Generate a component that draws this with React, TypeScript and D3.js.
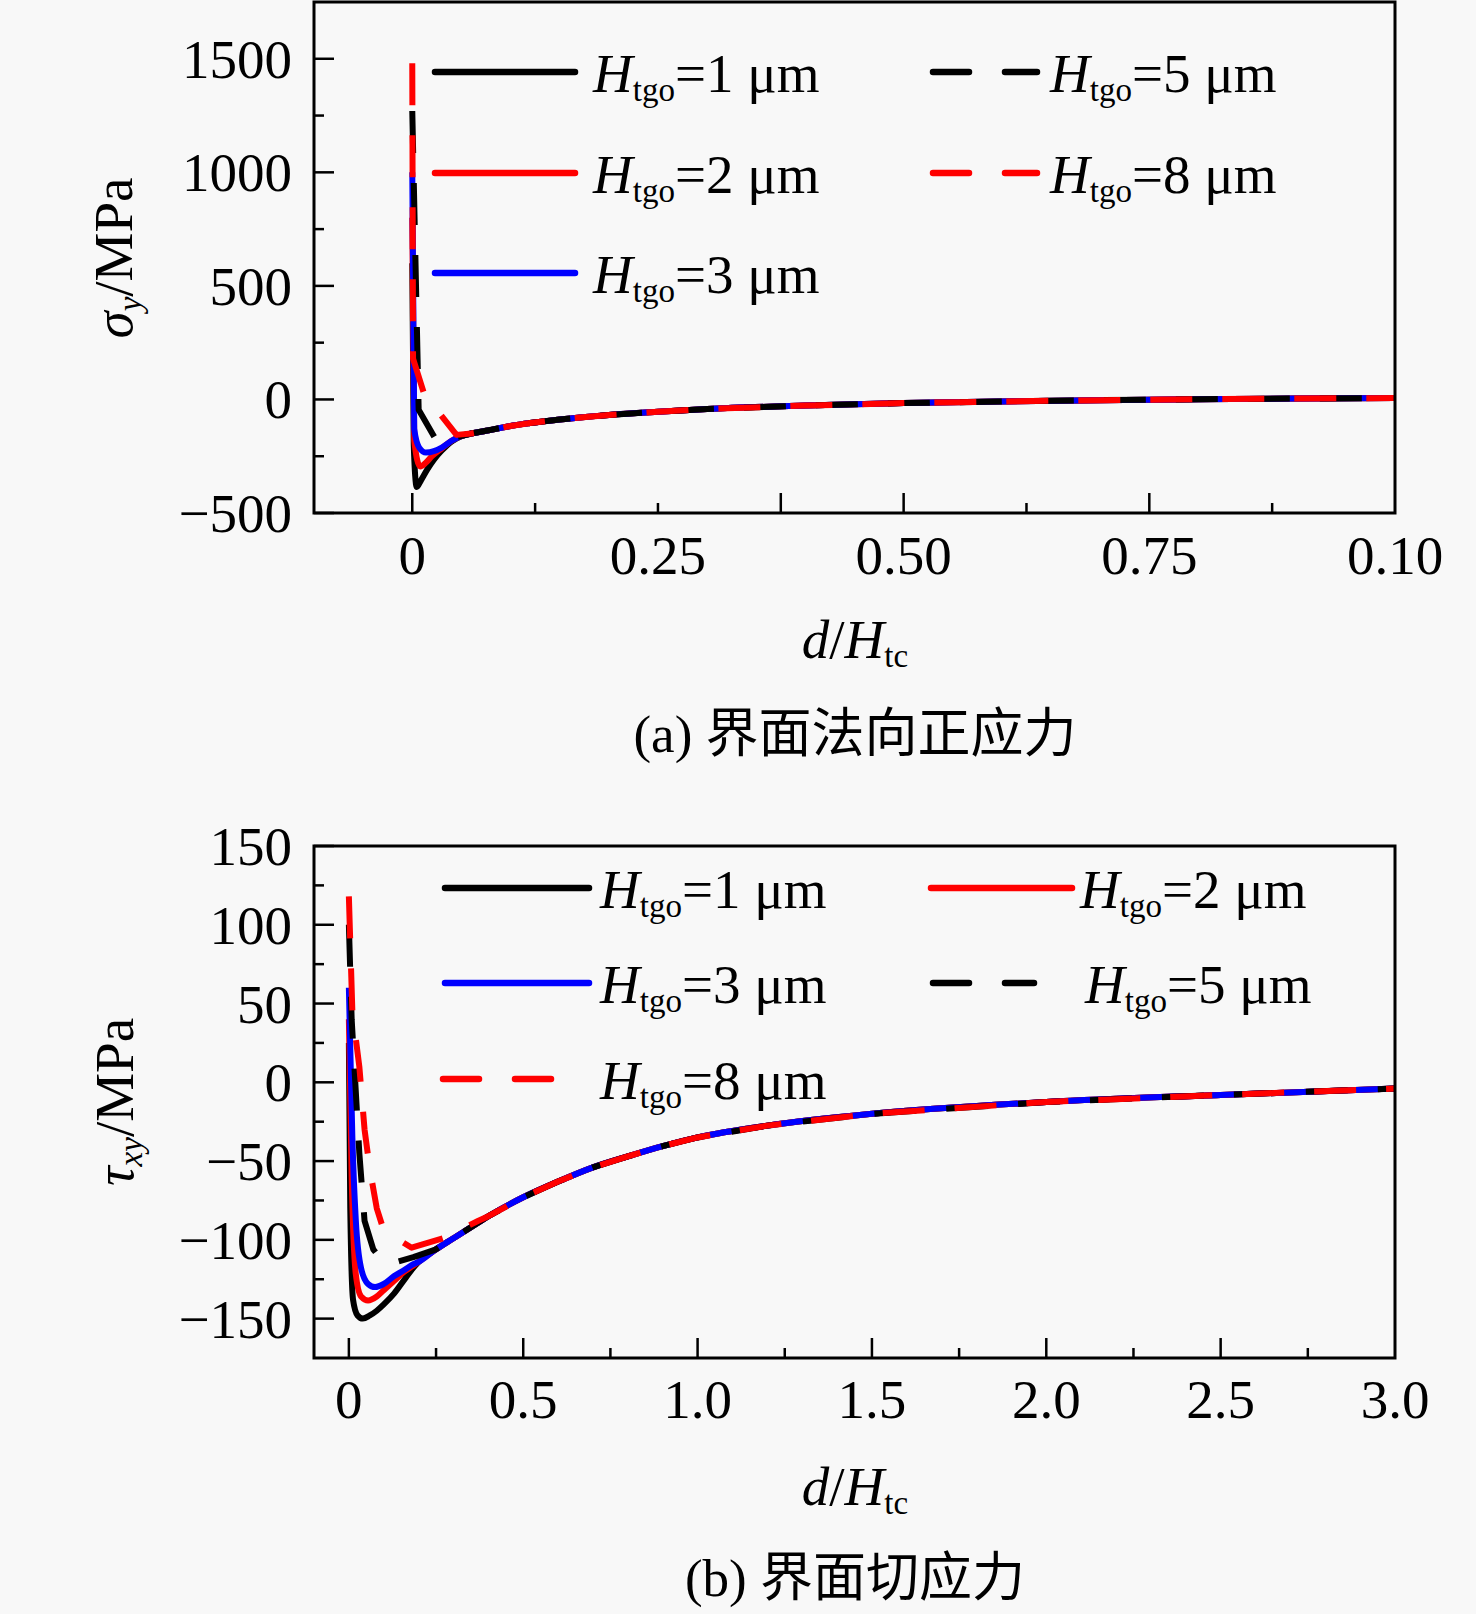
import React from 'react';
import * as d3 from 'd3';

// ---------- data ----------
const seriesLabels = ['1', '2', '3', '5', '8']; // H_tgo (μm)
const seriesColors = ['#000000', '#ff0000', '#0000ff', '#000000', '#ff0000'];
const seriesDashed = [false, false, false, true, true];

// (a) σy vs d/Htc
const sigmaTail: [number, number][] = [[0.075, -138], [0.1, -117], [0.12, -104], [0.15, -88], [0.2, -68], [0.25, -54], [0.3, -42], [0.4, -27], [0.5, -16], [0.6, -9], [0.7, -3], [0.8, 1], [0.9, 4], [1.0, 6]];
const sigma1: [number, number][] = [[0, 600], [0.0015, -200], [0.0045, -385], [0.009, -355], [0.015, -310], [0.022, -265], [0.03, -225], [0.04, -185], [0.05, -162], [0.06, -150]];
const sigma2: [number, number][] = [[0, 800], [0.002, -180], [0.008, -295], [0.014, -278], [0.02, -250], [0.03, -215], [0.04, -182], [0.05, -161], [0.06, -150]];
const sigma3: [number, number][] = [[0, 1000], [0.002, -130], [0.007, -212], [0.014, -234], [0.022, -228], [0.03, -212], [0.04, -182], [0.05, -161], [0.06, -150]];
const sigma5: [number, number][] = [[0, 1270], [0.0065, -45], [0.027, -200], [0.045, -166], [0.06, -150]];
const sigma8: [number, number][] = [[0, 1480], [0.0008, 180], [0.012, 25], [0.045, -156], [0.06, -150]];

// (b) τxy vs d/Htc
const tauTail: [number, number][] = [[0.2, -114], [0.25, -106], [0.3, -99], [0.35, -92], [0.4, -85], [0.5, -73], [0.6, -63], [0.7, -54], [0.8, -47], [0.9, -40.5], [1.0, -35], [1.2, -27.5], [1.5, -20], [2.0, -12.5], [2.5, -8], [3.0, -4]];
const tau1: [number, number][] = [[0, 25], [0.004, -80], [0.012, -138], [0.025, -148], [0.04, -150], [0.06, -148], [0.08, -145], [0.1, -141], [0.13, -134], [0.16, -125], [0.18, -119]];
const tau2: [number, number][] = [[0, 40], [0.008, -60], [0.02, -122], [0.035, -136], [0.055, -138.5], [0.08, -136], [0.1, -132], [0.13, -126], [0.16, -120], [0.18, -117]];
const tau3: [number, number][] = [[0, 60], [0.01, -35], [0.02, -88], [0.035, -118], [0.055, -128], [0.075, -130], [0.1, -128], [0.13, -123], [0.16, -119], [0.18, -116]];
const tau5: [number, number][] = [[0, 100], [0.008, 40], [0.03, -45], [0.045, -88], [0.07, -106], [0.105, -116], [0.185, -111], [0.25, -106]];
const tau8: [number, number][] = [[0, 118], [0.01, 45], [0.03, 10], [0.045, -30], [0.06, -55], [0.08, -80], [0.1, -94], [0.18, -105], [0.27, -99], [0.37, -88]];

const sigmaSeries = [
  [...sigma1, ...sigmaTail],
  [...sigma2, ...sigmaTail],
  [...sigma3, ...sigmaTail],
  [...sigma5, ...sigmaTail],
  [...sigma8, ...sigmaTail],
];
const tauSeries = [
  [...tau1, ...tauTail],
  [...tau2, ...tauTail],
  [...tau3, ...tauTail],
  [...tau5, ...tauTail.filter((p) => p[0] >= 0.3)],
  [...tau8, ...tauTail.filter((p) => p[0] >= 0.4)],
];

// ticks
const aXMajor = [0, 0.375, 0.5, 0.75];
const aXMinor = [0.125, 0.25, 0.625, 0.875];
const aXLabelVals = [0, 0.25, 0.5, 0.75, 1.0];
const aXLabels = ['0', '0.25', '0.50', '0.75', '0.10'];
const aYMajor = [-500, 0, 500, 1000, 1500];
const aYMinor = [-250, 250, 750, 1250];

const bXMajor = [0, 0.5, 1.0, 1.5, 2.0, 2.5];
const bXMinor = [0.25, 0.75, 1.25, 1.75, 2.25, 2.75];
const bXLabelVals = [0, 0.5, 1.0, 1.5, 2.0, 2.5, 3.0];
const bXLabels = ['0', '0.5', '1.0', '1.5', '2.0', '2.5', '3.0'];
const bYMajor = [-150, -100, -50, 0, 50, 100, 150];
const bYMinor = [-125, -75, -25, 25, 75, 125];

// ---------- style ----------
const FONT = "'Liberation Serif', 'Times New Roman', 'Noto Sans CJK SC', serif";
const CJK = "'Liberation Serif', 'Noto Sans CJK SC', sans-serif";
const BG = '#f8f8f8';
const LW = 6;
const DASH = '42 30';
const LEG_DASH = '36 36';
const FS = 55;
const SUB = 33;

const fmtY = (v: number) => (v < 0 ? '\u2212' + Math.abs(v) : String(v));

type PanelProps = {
  id: string;
  left: number; right: number; top: number; bottom: number;
  xDomain: [number, number]; yDomain: [number, number];
  series: [number, number][][];
  xMajor: number[]; xMinor: number[]; xLabelVals: number[]; xLabels: string[];
  yMajor: number[]; yMinor: number[];
  xLabelBaseline: number;
};

function Panel(p: PanelProps) {
  const x = d3.scaleLinear().domain(p.xDomain).range([p.left, p.right]);
  const y = d3.scaleLinear().domain(p.yDomain).range([p.bottom, p.top]);
  const lineSmooth = d3.line<[number, number]>().x((d) => x(d[0])).y((d) => y(d[1])).curve(d3.curveMonotoneX);
  const lineLin = d3.line<[number, number]>().x((d) => x(d[0])).y((d) => y(d[1]));
  const MAJ = 20, MIN = 10;
  return (
    <g>
      <defs>
        <clipPath id={p.id}>
          <rect x={p.left} y={p.top} width={p.right - p.left} height={p.bottom - p.top} />
        </clipPath>
      </defs>
      <g clipPath={`url(#${p.id})`}>
        {p.series.map((s, i) => (
          <path
            key={i}
            d={(seriesDashed[i] ? lineLin : lineSmooth)(s) || ''}
            fill="none"
            stroke={seriesColors[i]}
            strokeWidth={LW}
            strokeDasharray={seriesDashed[i] ? DASH : undefined}
            strokeLinejoin="round"
          />
        ))}
      </g>
      {p.xMajor.map((v) => (
        <line key={'xM' + v} x1={x(v)} x2={x(v)} y1={p.bottom} y2={p.bottom - MAJ} stroke="#000" strokeWidth={2.5} />
      ))}
      {p.xMinor.map((v) => (
        <line key={'xm' + v} x1={x(v)} x2={x(v)} y1={p.bottom} y2={p.bottom - MIN} stroke="#000" strokeWidth={2.5} />
      ))}
      {p.yMajor.map((v) => (
        <line key={'yM' + v} x1={p.left} x2={p.left + MAJ} y1={y(v)} y2={y(v)} stroke="#000" strokeWidth={2.5} />
      ))}
      {p.yMinor.map((v) => (
        <line key={'ym' + v} x1={p.left} x2={p.left + MIN} y1={y(v)} y2={y(v)} stroke="#000" strokeWidth={2.5} />
      ))}
      <rect x={p.left} y={p.top} width={p.right - p.left} height={p.bottom - p.top} fill="none" stroke="#000" strokeWidth={3} />
      {p.xLabelVals.map((v, i) => (
        <text key={'xl' + i} x={x(v)} y={p.xLabelBaseline} textAnchor="middle" fontSize={FS} fontFamily={FONT}>
          {p.xLabels[i]}
        </text>
      ))}
      {p.yMajor.map((v) => (
        <text key={'yl' + v} x={292} y={y(v) + 19} textAnchor="end" fontSize={FS} fontFamily={FONT}>
          {fmtY(v)}
        </text>
      ))}
    </g>
  );
}

function LegendItem({ x1, x2, y, i, tx }: { x1: number; x2: number; y: number; i: number; tx: number }) {
  return (
    <g>
      <line x1={x1 + 3} x2={x2 - 3} y1={y} y2={y} stroke={seriesColors[i]} strokeWidth={LW + 0.5}
        strokeLinecap="round"
        strokeDasharray={seriesDashed[i] ? LEG_DASH : undefined} />
      <text x={tx} y={y + 20} fontSize={FS} fontFamily={FONT}>
        <tspan fontStyle="italic">H</tspan>
        <tspan fontSize={SUB} dy={9}>tgo</tspan>
        <tspan dy={-9}>{'=' + seriesLabels[i] + ' \u03bcm'}</tspan>
      </text>
    </g>
  );
}

export default function App() {
  return (
    <svg width={1476} height={1614} style={{ position: 'absolute', left: 0, top: 0, background: BG }}>
      <rect x={0} y={0} width={1476} height={1614} fill={BG} />
      <Panel id="clipA" left={314} right={1395} top={2} bottom={513}
        xDomain={[-0.1, 1.0]} yDomain={[-500, 1750]} series={sigmaSeries}
        xMajor={aXMajor} xMinor={aXMinor} xLabelVals={aXLabelVals} xLabels={aXLabels}
        yMajor={aYMajor} yMinor={aYMinor} xLabelBaseline={574} />
      <Panel id="clipB" left={314} right={1395} top={846} bottom={1358}
        xDomain={[-0.1, 3.0]} yDomain={[-175, 150]} series={tauSeries}
        xMajor={bXMajor} xMinor={bXMinor} xLabelVals={bXLabelVals} xLabels={bXLabels}
        yMajor={bYMajor} yMinor={bYMinor} xLabelBaseline={1418} />

      {/* legend (a) */}
      <LegendItem x1={432} x2={578} y={72} i={0} tx={593} />
      <LegendItem x1={432} x2={578} y={173} i={1} tx={593} />
      <LegendItem x1={432} x2={578} y={273} i={2} tx={593} />
      <LegendItem x1={930} x2={1040} y={72} i={3} tx={1050} />
      <LegendItem x1={930} x2={1040} y={173} i={4} tx={1050} />

      {/* legend (b) */}
      <LegendItem x1={442} x2={592} y={888} i={0} tx={600} />
      <LegendItem x1={928} x2={1075} y={888} i={1} tx={1080} />
      <LegendItem x1={442} x2={592} y={983} i={2} tx={600} />
      <LegendItem x1={930} x2={1037} y={983} i={3} tx={1085} />
      <LegendItem x1={440} x2={555} y={1079} i={4} tx={600} />

      {/* axis titles */}
      <text transform="translate(132,258) rotate(-90)" textAnchor="middle" fontSize={FS} fontFamily={FONT}>
        <tspan fontStyle="italic">σ</tspan>
        <tspan fontStyle="italic" fontSize={SUB} dy={9}>y</tspan>
        <tspan dy={-9}>/MPa</tspan>
      </text>
      <text transform="translate(133,1102) rotate(-90)" textAnchor="middle" fontSize={FS} fontFamily={FONT}>
        <tspan fontStyle="italic">τ</tspan>
        <tspan fontStyle="italic" fontSize={SUB} dy={9}>xy</tspan>
        <tspan dy={-9}>/MPa</tspan>
      </text>
      <text x={855} y={658} textAnchor="middle" fontSize={FS} fontFamily={FONT}>
        <tspan fontStyle="italic">d</tspan>
        <tspan>/</tspan>
        <tspan fontStyle="italic">H</tspan>
        <tspan fontSize={SUB} dy={9}>tc</tspan>
      </text>
      <text x={855} y={1505} textAnchor="middle" fontSize={FS} fontFamily={FONT}>
        <tspan fontStyle="italic">d</tspan>
        <tspan>/</tspan>
        <tspan fontStyle="italic">H</tspan>
        <tspan fontSize={SUB} dy={9}>tc</tspan>
      </text>

      {/* captions */}
      <text x={855} y={752} textAnchor="middle" fontSize={53} fontFamily={CJK}>(a) 界面法向正应力</text>
      <text x={855} y={1596} textAnchor="middle" fontSize={53} fontFamily={CJK}>(b) 界面切应力</text>
    </svg>
  );
}
